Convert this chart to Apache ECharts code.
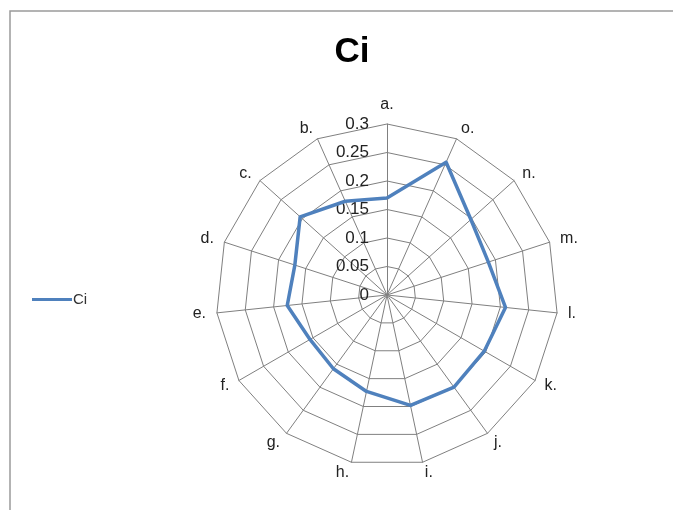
<!DOCTYPE html>
<html>
<head>
<meta charset="utf-8">
<script src="https://cdn.jsdelivr.net/npm/echarts@6/dist/echarts.min.js"></script>
<style>
  html, body { margin: 0; padding: 0; background: #fff; }
  #chart { width: 673px; height: 510px; }
</style>
</head>
<body>
<div id="chart"></div>
<script>
// categories, counterclockwise from the top
var categories = ['a.', 'b.', 'c.', 'd.', 'e.', 'f.', 'g.', 'h.', 'i.', 'j.', 'k.', 'l.', 'm.', 'n.', 'o.']
// Ci values
var ciValues = [0.17, 0.18, 0.205, 0.17, 0.176, 0.156, 0.16, 0.173, 0.198, 0.2, 0.197, 0.209, 0.187, 0.198, 0.255]
// value axis
var axisMax = 0.3
var axisSplits = 6

var myChart = echarts.init(document.getElementById('chart'))
var option = {
  backgroundColor: '#fff',
  title: {
    text: 'Ci',
    left: 347,
    top: 30,
    textAlign: 'center',
    textStyle: {
      fontFamily: 'Liberation Sans',
      fontSize: 35,
      fontWeight: 'bold',
      color: '#000'
    }
  },
  graphic: [
    {
      type: 'rect',
      shape: { x: 10, y: 11, width: 700, height: 540 },
      style: { fill: 'none', stroke: '#9a9a9a', lineWidth: 1.5 },
      silent: true
    }
  ],
  legend: {
    left: 27,
    top: 287,
    itemWidth: 40,
    itemHeight: 3,
    itemGap: 4,
    icon: 'rect',
    data: ['Ci'],
    textStyle: {
      fontFamily: 'Liberation Sans',
      fontSize: 15,
      color: '#333',
      padding: [0, 0, 0, -4]
    }
  },
  radar: {
    center: [387, 295],
    radius: 171,
    startAngle: 90,
    splitNumber: axisSplits,
    shape: 'polygon',
    axisNameGap: 11,
    axisName: {
      color: '#222',
      fontFamily: 'Liberation Sans',
      fontSize: 16
    },
    indicator: categories.map(function (c, i) {
      var ind = { name: c, min: 0, max: axisMax }
      if (i === 0) {
        // tick labels only on the first (top) axis
        ind.axisLabel = {
          show: true,
          color: '#222',
          fontFamily: 'Liberation Sans',
          fontSize: 17,
          margin: 18,
          showMaxLabel: true,
          formatter: function (v) { return String(+v.toFixed(2)) }
        }
      }
      return ind
    }),
    axisLabel: { show: false },
    axisTick: { show: false },
    axisLine: { lineStyle: { color: '#808080', width: 1 } },
    splitLine: { lineStyle: { color: '#808080', width: 1 } },
    splitArea: { show: false }
  },
  series: [
    {
      name: 'Ci',
      type: 'radar',
      symbol: 'none',
      color: '#4f81bd',
      lineStyle: { color: '#4f81bd', width: 3.5 },
      data: [{ name: 'Ci', value: ciValues }]
    }
  ]
}
myChart.setOption(option)
</script>
</body>
</html>
